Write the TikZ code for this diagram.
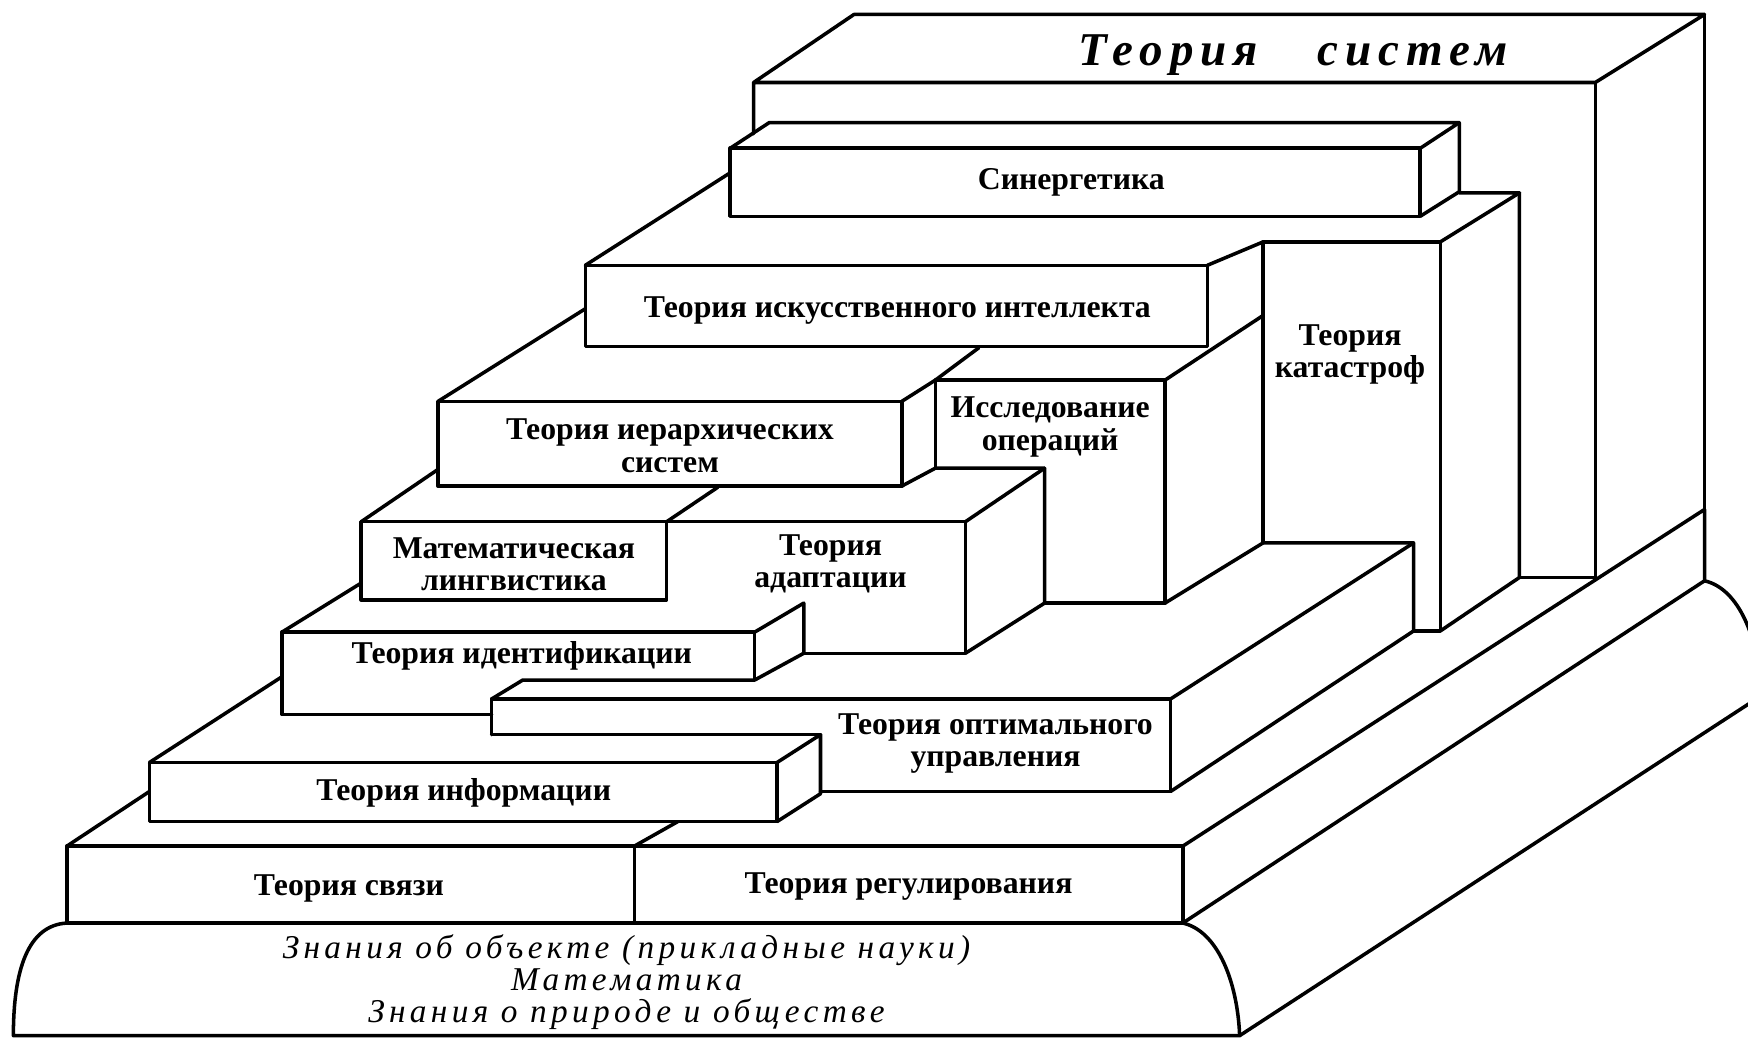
\documentclass[tikz,border=0pt]{standalone}
\usepackage{fontspec}
\setmainfont{Liberation Serif}
\newfontfamily\spacedfont[LetterSpace=15]{Liberation Serif}
\newfontfamily\widefont[LetterSpace=13]{Liberation Serif}
\begin{document}
\begin{tikzpicture}[x=0.1mm,y=-0.1mm,
  ln/.style={line width=0.9pt,line join=round,line cap=round},
  lbl/.style={font=\bfseries\fontsize{8.1}{8.3}\selectfont,align=center,inner sep=0pt},
  ttl/.style={font=\spacedfont\bfseries\itshape\fontsize{12}{12}\selectfont,inner sep=0pt},
  basetext/.style={font=\widefont\itshape\fontsize{8.5}{8.1}\selectfont,align=center,inner sep=0pt}]

\clip (0,0) rectangle (1568,932);

% Theory of systems
\draw[ln] (676,120) -- (676,74) -- (766,13) -- (1529,13) -- (1431,74) -- (676,74);
\draw[ln] (1529,13) -- (1529,457);
\draw[ln] (1431,74) -- (1431,518);
\draw[ln] (1363,518) -- (1431,518);

% Synergetics
\draw[ln] (655,133) rectangle (1274,194);
\draw[ln] (655,133) -- (690,110) -- (1309,110) -- (1274,133);
\draw[ln] (1309,110) -- (1309,172) -- (1274,194);

% Catastrophes
\draw[ln] (1133,487) -- (1133,217) -- (1292,217) -- (1292,566) -- (1268,566);
\draw[ln] (1309,173) -- (1363,173) -- (1292,217);
\draw[ln] (1363,173) -- (1363,518) -- (1292,566);

% Artificial intelligence
\draw[ln] (525,238) rectangle (1083,311);
\draw[ln] (525,238) -- (655,155);
\draw[ln] (1083,238) -- (1133,217);

% Hierarchies
\draw[ln] (393,360) rectangle (809,436);
\draw[ln] (393,360) -- (525,277);
\draw[ln] (809,360) -- (839,341);
\draw[ln] (809,436) -- (839,420);

% Operations research
\draw[ln] (839,420) -- (839,341) -- (1045,341) -- (1045,541) -- (937,541);
\draw[ln] (839,341) -- (878,312);
\draw[ln] (1045,341) -- (1133,283);
\draw[ln] (1045,541) -- (1133,487) -- (1268,487);

% Adaptation
\draw[ln] (598,468) -- (866,468) -- (866,586) -- (721,586);
\draw[ln] (598,468) -- (644,437);
\draw[ln] (866,468) -- (937,420) -- (839,420);
\draw[ln] (937,420) -- (937,541) -- (866,586);

% Mathematical linguistics
\draw[ln] (324,468) rectangle (598,538);
\draw[ln] (324,468) -- (393,421);

% Identification
\draw[ln] (441,641) -- (253,641) -- (253,567) -- (677,567) -- (677,610);
\draw[ln] (253,567) -- (324,523);
\draw[ln] (677,567) -- (721,541) -- (721,586) -- (677,610) -- (469,610) -- (441,627);

% Optimal control
\draw[ln] (441,659) -- (441,627) -- (1050,627) -- (1050,710) -- (736,710);
\draw[ln] (441,659) -- (736,659);
\draw[ln] (1050,627) -- (1268,487) -- (1268,566) -- (1050,710);

% Information
\draw[ln] (134,684) rectangle (697,737);
\draw[ln] (134,684) -- (253,607);
\draw[ln] (697,684) -- (736,659) -- (736,712) -- (697,737);

% Communication and regulation
\draw[ln] (60,759) rectangle (1061,828);
\draw[ln] (569,759) -- (569,828);
\draw[ln] (60,759) -- (134,710);
\draw[ln] (569,759) -- (608,737);
\draw[ln] (1061,759) -- (1529,457) -- (1529,521) -- (1061,828);

% Pedestal
\draw[ln] (60,828) .. controls (25,830) and (12,870) .. (12,929) -- (1112,929)
  .. controls (1110,880) and (1092,835) .. (1061,828);
\draw[ln] (1529,521) .. controls (1560,528) and (1578,573) .. (1580,624) -- (1112,929);

% Labels
\node[ttl] (systems) at (1160,49) {Теория\hspace{5.3mm}систем};
\node[lbl] (synerg) at (961,164) {Синергетика};
\node[lbl] (ai) at (805,279) {Теория искусственного интеллекта};
\node[lbl] (hier) at (601,400) {Теория иерархических\\систем};
\node[lbl] (opres) at (942,383) {Исследование\\операций};
\node[lbl] (catast) at (1211,318) {Теория\\катастроф};
\node[lbl] (ling) at (461,506) {Математическая\\лингвистика};
\node[lbl] (adapt) at (745,506) {Теория\\адаптации};
\node[lbl] (ident) at (468,588) {Теория идентификации};
\node[lbl] (optim) at (893,667) {Теория оптимального\\управления};
\node[lbl] (inform) at (416,711) {Теория информации};
\node[lbl] (comm) at (313,797) {Теория связи};
\node[lbl] (regul) at (815,795) {Теория регулирования};
\node[basetext] (knowl) at (562,881) {Знания об объекте (прикладные науки)\\Математика\\Знания о природе и обществе};
\end{tikzpicture}
\end{document}
